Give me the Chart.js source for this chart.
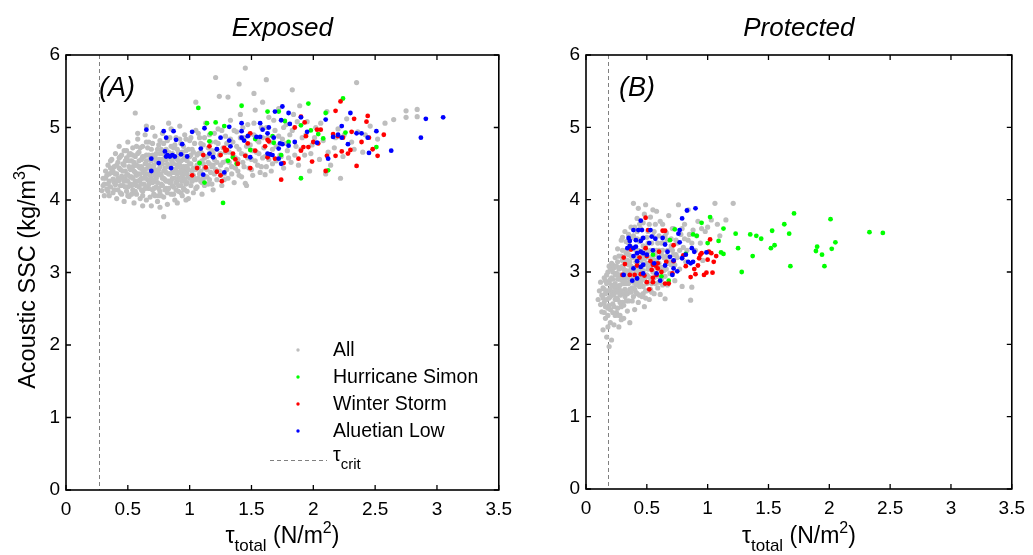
<!DOCTYPE html>
<html><head><meta charset="utf-8">
<script src="https://cdn.jsdelivr.net/npm/chart.js@4.4.1/dist/chart.umd.min.js"></script>
<style>
html,body{margin:0;padding:0;background:#fff;width:1033px;height:555px;overflow:hidden}
#w1{position:absolute;left:0;top:0;width:520px;height:555px}
#w2{position:absolute;left:520px;top:0;width:513px;height:555px}
</style></head><body>
<div id="w1"><canvas id="c1" width="520" height="555"></canvas></div>
<div id="w2"><canvas id="c2" width="513" height="555"></canvas></div>
<script>
const xTicks=[0,0.5,1,1.5,2,2.5,3,3.5];
const yTicks=[0,1,2,3,4,5,6];
const seriesNames=['All','Hurricane Simon','Winter Storm','Aluetian Low'];
const seriesColors=['#bebebe','#00ff00','#ff0000','#0000ff'];
const panelTitles=['Exposed','Protected'];
const panelLetters=['(A)','(B)'];
const tauCrit=[0.27,0.18];

const expAll=[
[0.29,4.13],[0.30,4.30],[0.31,4.22],[0.32,4.40],[0.33,4.15],[0.33,4.34],[0.34,4.48],[0.35,4.06],[0.35,4.26],[0.36,4.18],[0.37,4.38],[0.37,4.56],[0.38,4.10],[0.38,4.29],[0.39,4.46],[0.40,4.21],[0.40,4.64],[0.41,4.02],[0.41,4.36],[0.42,4.52],[0.42,4.14],[0.43,4.27],[0.43,4.74],[0.44,4.42],[0.44,4.60],[0.45,4.08],[0.45,4.33],[0.46,4.20],[0.46,4.50],[0.47,4.68],[0.47,3.98],[0.48,4.40],[0.48,4.28],[0.49,4.58],[0.49,4.12],[0.50,4.80],[0.50,4.35],[0.51,4.05],[0.51,4.46],[0.52,4.22],[0.52,4.64],
[0.53,4.32],[0.53,4.54],[0.54,4.14],[0.54,4.72],[0.55,4.40],[0.55,3.96],[0.56,4.26],[0.56,4.60],[0.57,4.48],[0.57,4.08],[0.58,4.36],[0.58,4.84],[0.59,4.18],[0.59,4.66],[0.60,4.44],[0.60,4.02],[0.61,4.30],[0.61,4.56],[0.62,4.74],[0.62,4.12],[0.63,4.38],[0.63,4.22],[0.64,4.50],[0.64,4.90],[0.65,4.00],[0.65,4.62],[0.66,4.28],[0.66,4.44],[0.67,4.16],[0.67,4.80],[0.68,4.34],[0.68,4.56],[0.69,3.92],[0.69,4.70],[0.70,4.24],[0.70,4.46],[0.71,4.08],[0.71,4.38],[0.72,4.60],[0.72,4.88],[0.73,4.18],[0.73,4.30],[0.74,4.52],[0.74,3.98],[0.75,4.42],[0.75,4.76],
[0.76,4.12],[0.76,4.64],[0.77,4.34],[0.77,4.22],[0.78,4.50],[0.78,4.92],[0.79,4.04],[0.79,4.40],[0.80,4.68],[0.80,4.28],[0.81,4.16],[0.81,4.56],[0.82,4.82],[0.82,3.94],[0.83,4.36],[0.83,4.46],[0.84,4.24],[0.84,4.62],[0.85,4.08],[0.85,4.98],[0.86,4.52],[0.86,4.30],[0.87,4.72],[0.87,4.18],[0.88,4.42],[0.88,4.00],[0.89,4.58],[0.89,4.86],[0.90,4.26],[0.90,4.36],[0.91,4.66],[0.91,4.12],[0.92,4.48],[0.92,5.02],[0.93,4.20],[0.93,4.78],[0.94,4.40],[0.94,4.06],[0.95,4.56],[0.95,4.30],[0.96,4.90],[0.96,4.14],[0.97,4.46],[0.97,4.68],[0.98,4.24],[0.98,4.36],[0.99,4.60],[0.99,4.02],[1.00,4.82],[1.00,4.50],
[1.01,4.20],[1.02,4.40],[1.02,4.70],[1.03,4.10],[1.04,4.56],[1.04,4.30],[1.05,4.96],[1.06,4.48],[1.06,4.18],[1.07,4.64],[1.08,4.36],[1.08,4.86],[1.09,4.26],[1.10,4.54],[1.10,4.08],[1.11,4.76],[1.12,4.44],[1.13,4.32],[1.13,5.06],[1.14,4.60],[1.15,4.22],[1.16,4.50],[1.16,4.90],[1.17,4.38],[1.18,4.68],[1.19,4.14],[1.20,4.56],[1.21,4.80],[1.21,4.42],[1.22,4.28],[1.23,4.98],[1.24,4.62],[1.25,4.48],[1.26,4.20],[1.27,4.72],[1.28,4.36],[1.29,4.88],[1.30,4.54],
[1.31,4.30],[1.32,4.66],[1.33,5.10],[1.34,4.46],[1.35,4.80],[1.36,4.24],[1.37,4.58],[1.38,4.94],[1.39,4.40],[1.40,4.70],[1.41,5.18],[1.42,4.32],[1.43,4.52],[1.44,4.86],[1.45,4.62],[1.46,4.20],[1.47,5.04],[1.48,4.44],[1.49,4.76],[1.50,4.56],[1.51,4.34],[1.52,4.90],[1.53,5.24],[1.54,4.66],[1.55,4.48],[1.56,4.80],[1.57,4.38],[1.58,5.00],[1.59,4.58],[1.60,4.72],
[1.62,4.46],[1.63,4.86],[1.64,5.14],[1.66,4.40],[1.67,4.70],[1.69,4.96],[1.70,4.54],[1.72,5.26],[1.73,4.62],[1.75,4.84],[1.76,4.44],[1.78,5.04],[1.79,4.68],[1.81,4.90],[1.82,4.52],[1.84,5.18],[1.86,4.74],[1.88,4.48],[1.89,5.30],[1.91,4.86],[1.93,4.62],[1.95,5.08],[1.97,4.40],[1.99,4.76],
[2.02,5.00],[2.05,4.56],[2.08,4.82],[2.11,5.22],[2.14,4.48],[2.17,4.72],[2.20,4.98],[2.24,4.60],[2.27,5.12],[2.31,4.80],[2.36,4.94],[2.40,4.66],[2.46,5.02],[2.52,4.84],[2.58,5.06],[2.65,5.11],[2.75,5.23],[2.84,5.25],[2.75,5.14],[2.84,5.15],[2.22,4.30],[2.10,4.36],
[1.45,5.82],[1.21,5.69],[1.62,5.66],[2.35,5.62],[1.40,5.60],[1.83,5.52],[1.52,5.47],[1.24,5.43],[1.31,5.42],[1.59,5.35],[0.79,3.77],[0.97,4.00],[1.45,4.23],[1.61,4.35],[0.56,5.20],[0.65,5.02],[1.05,5.35],
[0.31,4.06],[0.34,4.22],[0.36,4.44],[0.39,4.14],[0.40,4.36],[0.42,4.30],[0.43,4.58],[0.44,4.20],[0.46,4.40],[0.47,4.26],[0.48,4.54],[0.49,4.34],[0.50,4.18],[0.51,4.62],[0.52,4.42],[0.53,4.08],[0.54,4.30],[0.55,4.52],[0.56,4.38],[0.57,4.20],[0.58,4.64],[0.59,4.46],[0.60,4.28],[0.61,4.14],[0.62,4.42],[0.63,4.60],[0.64,4.32],[0.65,4.18],[0.66,4.72],[0.67,4.48],[0.68,4.26],[0.69,4.40],[0.70,4.62],[0.71,4.16],[0.72,4.34],[0.73,4.54],[0.74,4.24],[0.75,4.06],[0.76,4.46],[0.77,4.70],[0.78,4.30],[0.79,4.56],[0.80,4.14],[0.81,4.38],[0.82,4.60],[0.83,4.26],[0.84,4.46],[0.85,4.74],[0.86,4.20],[0.87,4.38],[0.88,4.58],[0.89,4.14],[0.90,4.46],[0.91,4.30],[0.92,4.62],[0.93,4.42],[0.94,4.26],[0.95,4.74],[0.96,4.40],[0.97,4.22],[0.98,4.54],[0.99,4.32],[1.01,4.62],[1.03,4.44],[1.05,4.28],[1.07,4.46],[1.09,4.66],[1.11,4.30],[1.12,4.58],[1.14,4.42],[1.17,4.62],[1.19,4.48],[1.22,4.70],[1.25,4.34],[0.58,4.92],[0.70,5.00],[0.83,5.06],[0.62,3.92],[0.76,3.90],[0.90,3.96],
[0.30,4.20],[0.32,4.30],[0.34,4.12],[0.35,4.36],[0.36,4.54],[0.38,4.40],[0.39,4.24],[0.41,4.48],[0.41,4.26],[0.43,4.44],[0.44,4.10],[0.45,4.62],[0.46,4.30],[0.47,4.48],[0.48,4.18],[0.49,4.68],[0.50,4.26],[0.50,4.06],[0.51,4.54],[0.52,4.32],
[0.53,4.20],[0.54,4.46],[0.54,4.62],[0.55,4.22],[0.56,4.48],[0.56,4.12],[0.57,4.34],[0.57,4.74],[0.58,4.26],[0.59,4.54],[0.60,4.36],[0.60,4.72],[0.61,4.22],[0.61,4.46],[0.62,4.06],[0.62,4.60],[0.63,4.30],[0.64,4.42],[0.64,4.16],[0.65,4.54],[0.65,4.80],[0.66,4.36],[0.67,4.22],[0.67,4.62],[0.68,4.46],[0.68,4.04],[0.69,4.30],[0.69,4.54],[0.70,4.14],[0.70,4.78],[0.71,4.48],[0.71,4.26],[0.72,4.42],[0.72,4.06],[0.73,4.64],[0.73,4.40],[0.74,4.34],[0.74,4.70],[0.75,4.16],[0.75,4.56],
[0.76,4.36],[0.76,4.82],[0.77,4.56],[0.77,4.06],[0.78,4.20],[0.78,4.64],[0.79,4.30],[0.79,4.78],[0.80,4.44],[0.80,4.58],[0.81,4.26],[0.81,4.70],[0.82,4.10],[0.82,4.50],[0.83,4.66],[0.83,4.16],[0.84,4.36],[0.84,4.86],[0.85,4.26],[0.85,4.56],[0.86,4.42],[0.86,4.64],[0.87,4.08],[0.87,4.50],[0.88,4.30],[0.88,4.76],[0.89,4.40],[0.89,4.24],[0.90,4.56],[0.90,4.70],[0.91,4.20],[0.91,4.50],[0.92,4.38],[0.92,4.84],[0.93,4.54],[0.93,4.10],[0.94,4.66],[0.94,4.34],[0.95,4.46],[0.95,4.16],[0.96,4.28],[0.96,4.60],[0.97,4.36],[0.97,4.84],[0.98,4.46],[0.98,4.12],[0.99,4.70],[0.99,4.42],[1.00,4.30],[1.00,4.60],
[1.01,4.50],[1.01,4.86],[1.02,4.26],[1.03,4.66],[1.03,4.34],[1.04,4.78],[1.05,4.42],[1.05,4.16],[1.06,4.62],[1.07,4.30],[1.07,4.92],[1.08,4.52],[1.09,4.40],[1.09,4.78],[1.10,4.24],[1.10,4.64],[1.11,4.50],[1.12,4.20],[1.12,4.86],[1.13,4.60],[1.14,4.32],[1.15,4.72],[1.15,4.52],[1.16,4.28],[1.17,4.80],[1.18,4.46],[1.18,4.22],[1.19,4.64],[1.20,4.92],[1.20,4.36],[1.22,4.52],[1.23,4.78],[1.24,4.40],[1.25,4.64],[1.26,4.96],[1.27,4.52],[1.28,4.28],[1.29,4.66],[1.30,4.42],[1.30,4.78],
[1.32,4.52],[1.33,4.84],[1.34,4.36],[1.35,4.62],[1.36,4.96],[1.37,4.44],[1.38,4.74],[1.39,4.56],[1.40,4.34],[1.41,4.86],[1.42,4.64],[1.43,5.00],[1.44,4.46],[1.46,4.74],[1.47,4.58],[1.48,4.90],[1.50,4.42],[1.51,4.68],[1.52,5.06],[1.53,4.54],[1.55,4.82],[1.56,4.64],[1.58,4.46],[1.59,4.86],[1.61,4.60],[1.62,5.00],[1.64,4.56],[1.65,4.80],[1.67,4.50],[1.68,5.10],[1.70,4.74],[1.72,4.88],[1.74,4.60],[1.76,5.00],[1.78,4.78],[1.80,4.58],[1.83,4.96],[1.85,4.62],[1.87,5.08],[1.90,4.70],[1.94,4.90],[1.98,4.64],[2.01,4.86],[2.06,5.06],[2.12,4.66],[2.18,4.86],[2.25,4.90],[2.33,4.70],[2.42,4.90]
];
const expSimon=[
[1.07,5.27],[1.08,4.51],[1.12,4.24],[1.14,5.06],[1.16,4.81],[1.17,4.92],[1.21,5.07],[1.27,3.96],[1.28,5.02],[1.31,4.54],[1.35,4.59],[1.38,4.50],[1.42,5.30],[1.49,4.69],[1.53,4.84],[1.63,5.22],[1.67,4.88],[1.68,4.79],[1.72,5.22],[1.74,4.62],[1.77,5.09],[1.80,4.80],[1.90,5.03],[1.90,4.30],[1.96,5.33],[1.98,4.96],[2.04,4.91],[2.08,4.85],[2.10,5.20],[2.12,4.41],[2.24,5.40],[2.26,4.93],[2.51,4.73]
];
const expWinter=[
[1.02,4.34],[1.06,4.44],[1.11,4.62],[1.13,4.45],[1.16,4.74],[1.22,4.39],[1.25,4.62],[1.25,4.34],[1.26,4.26],[1.28,4.72],[1.29,4.68],[1.30,4.69],[1.35,4.64],[1.37,4.56],[1.39,4.50],[1.45,4.61],[1.47,4.78],[1.49,4.92],[1.49,4.44],[1.53,4.68],[1.61,4.74],[1.63,4.59],[1.63,4.83],[1.64,4.81],[1.65,4.63],[1.69,4.57],[1.74,4.28],[1.76,4.51],[1.85,5.00],[1.88,4.57],[1.90,4.68],[1.90,5.15],[1.93,5.07],[1.92,4.73],[1.94,4.88],[1.96,4.73],[1.99,4.53],[2.00,4.80],[2.03,4.97],[2.04,4.78],[2.06,4.97],[2.10,4.40],[2.11,4.61],[2.16,4.91],[2.18,5.23],[2.18,4.61],[2.20,4.88],[2.22,5.36],[2.23,4.67],[2.24,4.86],[2.28,4.64],[2.30,4.69],[2.31,4.94],[2.33,5.12],[2.35,4.47],[2.39,4.80],[2.44,5.16],[2.43,5.08],[2.45,4.86],[2.48,4.70],[2.52,4.61],[2.57,4.90]
];
const expAleutian=[
[0.65,4.97],[0.69,4.57],[0.69,4.40],[0.75,4.51],[0.79,4.95],[0.81,4.86],[0.80,4.67],[0.81,4.60],[0.82,4.62],[0.84,4.60],[0.86,4.62],[0.88,4.60],[0.87,4.95],[0.89,4.83],[0.85,4.44],[0.94,4.77],[0.93,4.63],[0.98,4.60],[1.02,4.94],[1.09,4.71],[1.11,4.35],[1.12,4.99],[1.16,4.64],[1.19,4.59],[1.22,4.70],[1.25,4.86],[1.28,4.38],[1.32,5.01],[1.32,4.82],[1.33,4.74],[1.42,5.06],[1.42,4.95],[1.42,4.86],[1.44,4.82],[1.47,4.88],[1.49,4.59],[1.54,4.87],[1.57,4.87],[1.57,5.06],[1.59,4.97],[1.63,4.92],[1.64,5.00],[1.63,4.64],[1.65,4.63],[1.67,4.62],[1.68,4.86],[1.69,5.22],[1.72,4.57],[1.72,4.71],[1.73,4.78],[1.74,5.10],[1.75,5.29],[1.74,4.50],[1.75,4.77],[1.80,4.75],[1.80,5.20],[1.81,5.05],[1.85,4.80],[1.90,5.14],[1.95,4.94],[2.03,4.79],[2.10,5.11],[2.12,4.57],[2.16,4.87],[2.20,4.90],[2.23,5.02],[2.23,4.86],[2.28,4.77],[2.30,5.20],[2.35,4.92],[2.39,4.92],[2.44,4.86],[2.45,4.65],[2.51,4.95],[2.63,4.68],[2.87,4.86],[2.91,5.12],[3.05,5.14]
];

const proAll=[
[0.10,2.62],[0.11,2.74],[0.12,2.55],[0.12,2.86],[0.13,2.68],[0.13,2.45],[0.14,2.78],[0.14,2.20],[0.15,2.92],[0.15,2.58],[0.16,2.36],[0.16,2.70],[0.17,2.10],[0.17,2.84],[0.18,2.50],[0.18,3.00],[0.19,1.97],[0.19,2.64],[0.20,2.76],[0.20,2.30],[0.21,2.06],[0.21,2.92],[0.22,3.10],[0.22,2.56],[0.23,2.27],[0.23,2.70],
[0.24,2.84],[0.24,3.20],[0.25,2.44],[0.25,2.98],[0.26,2.62],[0.26,3.32],[0.27,2.24],[0.27,2.78],[0.28,3.06],[0.28,2.90],[0.29,2.52],[0.29,3.44],[0.30,2.70],[0.30,3.16],[0.31,2.36],[0.31,2.84],[0.32,3.00],[0.32,3.56],[0.33,2.60],[0.33,3.26],[0.34,2.92],[0.34,2.46],[0.35,3.10],[0.35,3.40],[0.36,2.76],[0.36,2.30],
[0.37,3.62],[0.37,2.98],[0.38,2.60],[0.38,3.20],[0.39,2.86],[0.39,3.50],[0.40,3.06],[0.40,2.48],[0.41,3.30],[0.41,2.72],[0.42,3.74],[0.42,2.94],[0.43,3.14],[0.43,2.58],[0.44,3.42],[0.44,2.80],[0.45,3.02],[0.45,3.60],[0.46,2.66],[0.46,3.22],[0.47,2.90],[0.47,3.36],[0.48,2.52],[0.48,3.80],[0.49,3.10],[0.49,2.74],[0.50,3.48],[0.50,2.96],
[0.51,3.28],[0.52,2.62],[0.52,3.66],[0.53,3.04],[0.54,2.84],[0.54,3.40],[0.55,3.18],[0.56,2.70],[0.56,3.56],[0.57,2.96],[0.58,3.30],[0.58,3.84],[0.59,2.78],[0.60,3.12],[0.60,3.50],[0.61,2.69],[0.62,3.24],[0.62,2.90],[0.63,3.66],[0.64,3.40],[0.64,3.02],[0.65,2.63],[0.66,3.16],[0.66,3.54],[0.67,2.82],[0.68,3.30],[0.68,3.78],[0.69,2.98],[0.70,3.46],[0.70,3.10],
[0.72,3.60],[0.73,2.88],[0.74,3.24],[0.75,3.40],[0.76,3.93],[0.77,3.04],[0.78,3.52],[0.79,2.80],[0.80,3.34],[0.81,3.66],[0.82,3.14],[0.84,3.44],[0.86,2.61],[0.87,2.79],[0.88,3.58],[0.90,3.30],[0.92,3.70],[0.94,3.40],[0.96,3.16],[0.98,3.56],[1.00,3.62],[1.03,3.72],[1.06,3.95],[1.08,3.66],[1.10,3.50],[1.15,3.72],[1.21,3.95],[0.49,3.93],[0.39,3.95],[0.84,3.86],
[0.19,2.86],[0.20,3.04],[0.21,2.72],[0.22,2.90],[0.23,3.06],[0.24,2.62],[0.25,2.80],[0.26,3.14],[0.27,2.96],[0.28,2.68],[0.29,3.22],[0.30,2.88],[0.31,3.04],[0.32,2.76],[0.33,3.12],[0.34,3.30],[0.35,2.84],[0.36,3.02],[0.37,3.22],[0.38,2.90],[0.39,3.06],[0.40,2.76],[0.41,3.14],[0.42,3.46],[0.43,2.86],[0.44,3.04],[0.45,3.28],[0.46,2.96],[0.47,2.70],[0.48,3.18],[0.49,3.34],[0.50,2.84],[0.51,3.04],[0.52,3.20],[0.53,2.76],[0.54,3.10],[0.55,3.50],[0.56,2.92],[0.57,3.24],[0.58,3.06],[0.59,3.40],[0.60,2.86],[0.62,3.06],[0.63,3.30],[0.65,2.94],[0.66,3.22],[0.67,3.44],[0.69,3.14],[0.71,3.30],[0.73,3.10],[0.26,2.50],[0.28,2.40],[0.33,2.72],[0.22,2.44],[0.30,3.30],[0.35,3.52],[0.40,3.62],[0.44,3.66],[0.53,3.76],
[0.14,2.64],[0.15,2.76],[0.16,2.52],[0.16,2.88],[0.17,2.62],[0.17,2.96],[0.18,2.74],[0.18,2.40],[0.19,3.08],[0.19,2.54],[0.20,2.66],[0.20,2.90],[0.21,2.82],[0.21,3.12],[0.22,2.68],[0.22,3.00],[0.23,2.80],[0.23,2.52],[0.24,2.96],[0.24,2.74],[0.25,3.08],[0.25,2.64],[0.26,2.90],[0.26,2.72],[0.27,3.04],[0.27,3.22],[0.28,2.82],[0.28,2.58],[0.29,2.96],[0.29,2.74],[0.30,3.08],[0.30,2.58],[0.31,2.94],[0.31,3.20],[0.32,2.66],[0.32,2.88],[0.33,3.02],[0.33,2.84],[0.34,2.70],[0.34,3.16],[0.35,2.98],[0.35,3.24],[0.36,2.88],[0.36,3.14],[0.37,2.72],[0.37,3.08],[0.38,3.34],[0.38,2.78],[0.39,2.96],[0.39,2.66],[0.40,3.20],[0.40,2.90],[0.41,2.82],[0.41,3.00],[0.42,3.22],[0.42,2.70],[0.43,3.00],[0.43,3.30],[0.44,2.92],[0.44,2.68],[0.45,3.16],[0.45,2.86],[0.46,3.08],[0.46,3.46],[0.47,3.02],[0.47,2.80],[0.48,2.90],[0.48,3.30],[0.49,2.64],[0.49,3.22],[0.50,3.12],[0.50,2.74],[0.51,2.94],[0.51,3.40],[0.52,2.86],[0.52,3.06],[0.53,3.30],[0.53,2.92],[0.54,2.72],[0.55,3.00],[0.56,3.30],[0.57,2.84],[0.58,3.16],[0.59,2.94],[0.60,3.30],[0.61,3.04],[0.62,3.40],[0.63,2.82],[0.64,3.20],[0.65,3.50],[0.66,3.04],[0.67,3.30],[0.68,3.12],[0.70,3.36],[0.71,3.60],[0.72,3.24],[0.74,3.44],[0.75,3.20],[0.77,3.30],[0.79,3.60],[0.81,3.46],[0.83,3.30],[0.85,3.52],[0.87,3.40],[0.91,3.50],[0.95,3.60],[0.20,2.48],[0.24,2.40],[0.27,2.40],[0.31,2.54],[0.35,2.60],[0.29,2.34],[0.18,2.24],[0.15,2.44],[0.33,3.42],[0.38,3.48],[0.42,3.56],[0.47,3.68],[0.51,3.56],[0.57,3.66],[0.61,3.70],[0.43,3.88],[0.55,3.86],[0.30,3.48]
];
const proSimon=[
[1.02,3.76],[0.95,3.68],[1.13,3.60],[1.09,3.43],[1.00,3.40],[1.11,3.27],[1.13,3.25],[1.23,3.53],[1.25,3.33],[1.28,3.00],[1.35,3.52],[1.37,3.22],[1.40,3.50],[1.44,3.46],[1.52,3.33],[1.53,3.57],[1.55,3.37],[1.63,3.66],[1.67,3.53],[1.68,3.08],[1.71,3.81],[1.89,3.29],[1.90,3.35],[1.94,3.24],[1.96,3.08],[2.01,3.73],[2.02,3.32],[2.05,3.41],[2.33,3.55],[2.44,3.54],[0.73,3.59],[0.88,3.52],[0.91,3.50],[0.69,3.44],[0.82,3.25],[0.55,3.24],[0.62,2.94],[0.68,2.88]
];
const proWinter=[
[0.49,3.75],[0.51,3.58],[0.63,3.57],[0.65,3.57],[0.36,3.33],[0.37,3.31],[0.31,3.20],[0.32,3.11],[0.36,2.96],[0.42,3.09],[0.45,2.97],[0.49,3.33],[0.50,3.22],[0.53,3.15],[0.54,3.03],[0.55,3.10],[0.57,3.09],[0.59,3.12],[0.59,3.05],[0.52,2.76],[0.55,2.92],[0.58,2.96],[0.65,2.84],[0.68,2.84],[0.62,3.00],[0.66,3.14],[0.71,2.98],[0.72,3.37],[0.72,3.15],[0.80,3.23],[0.82,3.08],[0.86,2.93],[0.89,3.04],[0.90,2.97],[0.93,3.19],[0.94,3.24],[0.97,2.96],[0.99,2.99],[1.01,3.28],[1.03,3.26],[1.05,3.14],[1.02,3.45],[0.95,3.26],[0.92,3.09],[1.04,2.99],[1.07,3.22],[1.00,3.17],[0.30,2.96],[0.40,2.96],[0.48,2.95],[0.55,2.86],[0.50,2.86],[0.44,3.20],[0.60,3.28]
];
const proAleutian=[
[0.90,3.88],[0.83,3.85],[0.79,3.74],[0.45,3.71],[0.39,3.58],[0.43,3.58],[0.46,3.58],[0.53,3.58],[0.77,3.58],[0.35,3.47],[0.36,3.43],[0.41,3.44],[0.45,3.43],[0.47,3.47],[0.54,3.49],[0.57,3.46],[0.34,3.33],[0.39,3.33],[0.41,3.35],[0.42,3.26],[0.45,3.28],[0.47,3.26],[0.50,3.24],[0.39,3.22],[0.42,3.15],[0.45,3.07],[0.47,3.10],[0.39,3.05],[0.31,2.96],[0.42,2.91],[0.47,2.98],[0.55,3.30],[0.63,3.47],[0.65,3.38],[0.67,3.28],[0.69,3.21],[0.72,3.16],[0.65,3.09],[0.72,3.05],[0.75,3.01],[0.71,2.96],[0.76,3.53],[0.77,3.41],[0.82,3.24],[0.87,3.33],[0.89,3.28],[0.84,3.14],[0.86,3.12],[0.88,3.14],[0.79,3.19],[0.61,2.88],[0.56,3.12],[0.99,3.27],[0.36,3.36],[0.52,3.40],[0.60,3.20],[0.38,2.88],[0.58,2.98]
];

const FONT='"Liberation Sans", Arial, Helvetica, sans-serif';

function drawParts(ctx, parts, x, y){
  let total=0;
  parts.forEach(p=>{ctx.font=p[1]+'px '+FONT; p.w=ctx.measureText(p[0]).width; total+=p.w;});
  let cx=x-total/2;
  parts.forEach(p=>{ctx.font=p[1]+'px '+FONT; ctx.fillText(p[0],cx,y+p[2]); cx+=p.w;});
}

function makePanelPlugin(idx){
  return {
    id:'panel'+idx,
    beforeDatasetsDraw(chart){
      const ctx=chart.ctx, ca=chart.chartArea, xs=chart.scales.x;
      const tx=Math.round(xs.getPixelForValue(tauCrit[idx]))+0.5;
      ctx.save();
      ctx.strokeStyle='#808080'; ctx.lineWidth=1; ctx.setLineDash([4,3]);
      ctx.beginPath(); ctx.moveTo(tx,ca.top); ctx.lineTo(tx,ca.bottom); ctx.stroke();
      ctx.restore();
    },
    afterDraw(chart){
      const ctx=chart.ctx, ca=chart.chartArea, xs=chart.scales.x, ys=chart.scales.y;
      ctx.save();
      ctx.strokeStyle='#000'; ctx.lineWidth=1.6; ctx.setLineDash([]);
      ctx.strokeRect(ca.left,ca.top,ca.right-ca.left,ca.bottom-ca.top);
      ctx.lineWidth=1.3;
      ctx.beginPath();
      xTicks.forEach(v=>{const px=xs.getPixelForValue(v);
        ctx.moveTo(px,ca.bottom); ctx.lineTo(px,ca.bottom-5);
        ctx.moveTo(px,ca.top); ctx.lineTo(px,ca.top+5);});
      yTicks.forEach(v=>{const py=ys.getPixelForValue(v);
        ctx.moveTo(ca.left,py); ctx.lineTo(ca.left+5,py);
        ctx.moveTo(ca.right,py); ctx.lineTo(ca.right-5,py);});
      ctx.stroke();
      ctx.fillStyle='#000'; ctx.textBaseline='alphabetic';
      ctx.textAlign='center';
      ctx.font='italic 26px '+FONT;
      ctx.fillText(panelTitles[idx], (ca.left+ca.right)/2, 36);
      ctx.textAlign='left';
      ctx.font='italic 27px '+FONT;
      ctx.fillText(panelLetters[idx], ca.left+33, 96);
      drawParts(ctx,[['\u03c4',23,0],['total',17,8],[' (N/m',23,0],['2',16,-10],[')',23,0]],(ca.left+ca.right)/2,543);
      if(idx===0){
        ctx.save();
        ctx.translate(35,276); ctx.rotate(-Math.PI/2);
        drawParts(ctx,[['Acoustic SSC (kg/m',23.5,0],['3',16,-10],[')',23.5,0]],0,0);
        ctx.restore();
        const lx=298, tx=333, rows=[350,377,404,431];
        ctx.font='19.5px '+FONT; ctx.textBaseline='middle'; ctx.textAlign='left';
        seriesNames.forEach((n,i)=>{
          ctx.fillStyle=seriesColors[i];
          ctx.beginPath(); ctx.arc(lx,rows[i],1.7,0,Math.PI*2); ctx.fill();
          ctx.fillStyle='#000'; ctx.fillText(n,tx,rows[i]+1);
        });
        ctx.strokeStyle='#808080'; ctx.lineWidth=1; ctx.setLineDash([4,3]);
        ctx.beginPath(); ctx.moveTo(270,460.5); ctx.lineTo(327,460.5); ctx.stroke();
        ctx.setLineDash([]);
        ctx.textBaseline='alphabetic';
        ctx.font='19.5px '+FONT; ctx.fillText('\u03c4',tx,461);
        const tw=ctx.measureText('\u03c4').width;
        ctx.font='15px '+FONT; ctx.fillText('crit',tx+tw,469);
      }
      ctx.restore();
    }
  };
}

function toPts(a){return a.map(p=>({x:p[0],y:p[1]}));}

function makeChart(id, idx, sets, pad){
  return new Chart(document.getElementById(id),{
    type:'scatter',
    data:{datasets:sets.map((s,i)=>({
      label:seriesNames[i], data:toPts(s),
      backgroundColor:seriesColors[i], borderColor:seriesColors[i], borderWidth:0,
      pointRadius:i===0?2.6:2.4, pointHoverRadius:2.4, order:4-i
    }))},
    options:{
      responsive:false, animation:false, devicePixelRatio:1, events:[],
      layout:{padding:pad},
      plugins:{legend:{display:false},tooltip:{enabled:false}},
      scales:{
        x:{type:'linear',min:0,max:3.5,
          afterBuildTicks(s){s.ticks=xTicks.map(v=>({value:v}));},
          afterFit(s){s.height=30;},
          grid:{display:false,drawTicks:false}, border:{display:false},
          ticks:{color:'#000',font:{family:FONT,size:19},padding:8,maxRotation:0,autoSkip:false,callback:v=>String(v)}},
        y:{type:'linear',min:0,max:6,
          afterBuildTicks(s){s.ticks=yTicks.map(v=>({value:v}));},
          afterFit(s){s.width=40;},
          grid:{display:false,drawTicks:false}, border:{display:false},
          ticks:{color:'#000',font:{family:FONT,size:19},padding:6,autoSkip:false,callback:v=>String(v)}}
      }
    },
    plugins:[makePanelPlugin(idx)]
  });
}

makeChart('c1',0,[expAll,expSimon,expWinter,expAleutian],{left:26,right:19,top:55,bottom:35});
makeChart('c2',1,[proAll,proSimon,proWinter,proAleutian],{left:26,right:13,top:55,bottom:36});
</script>
</body></html>
